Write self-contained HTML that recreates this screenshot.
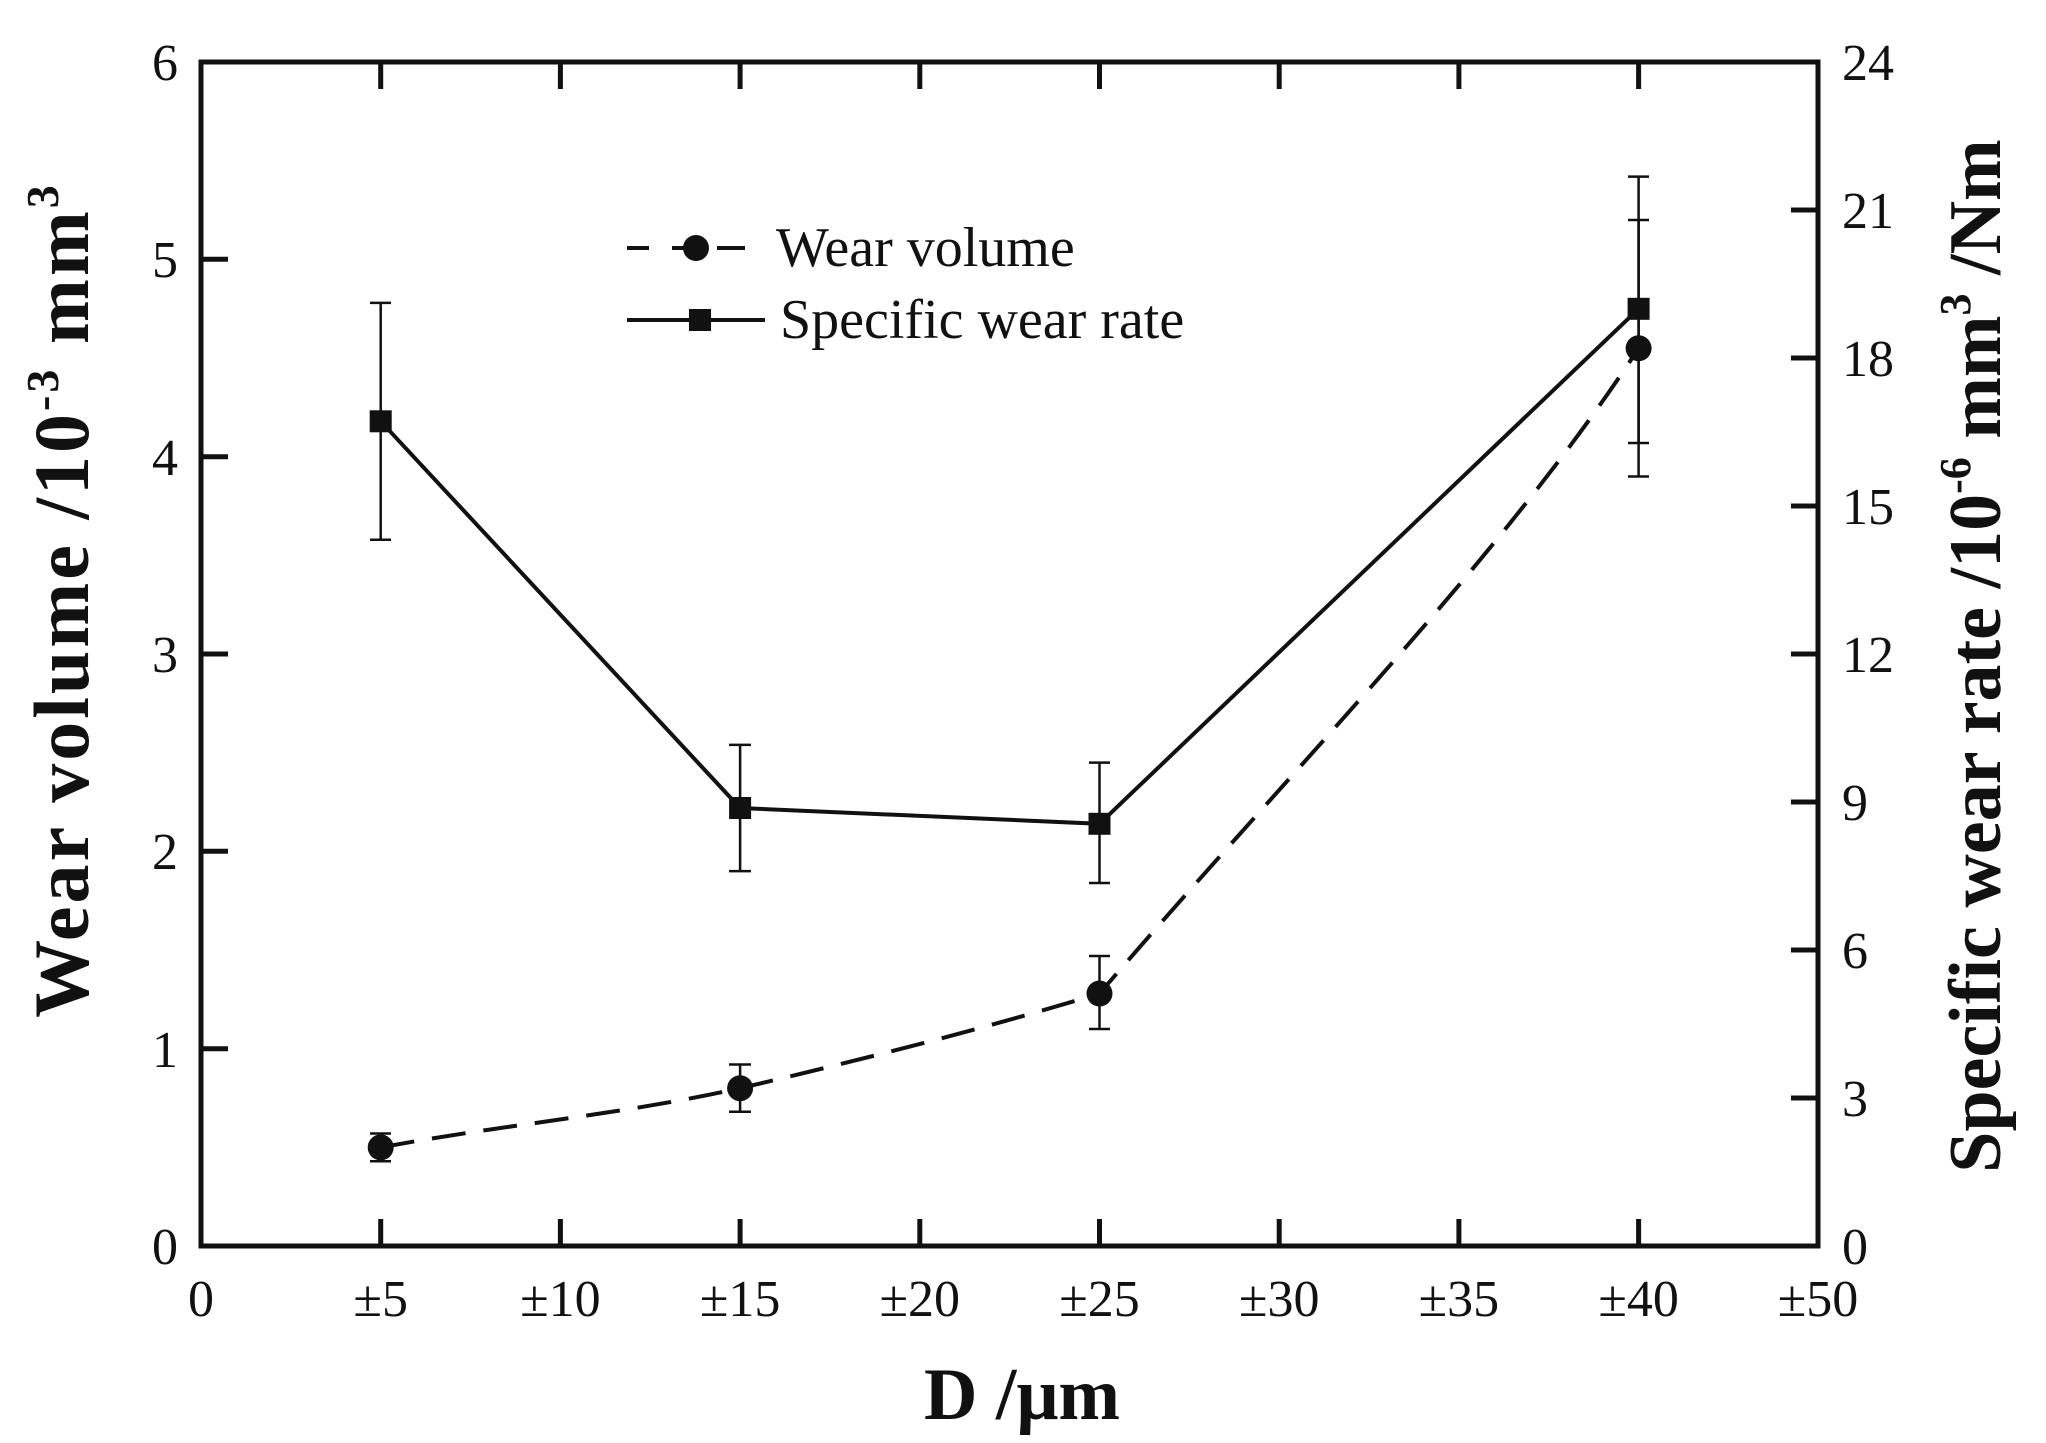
<!DOCTYPE html>
<html><head><meta charset="utf-8"><style>html,body{margin:0;padding:0;background:#fff}svg{display:block}</style></head>
<body>
<svg width="2046" height="1443" viewBox="0 0 2046 1443" xmlns="http://www.w3.org/2000/svg" font-family="Liberation Serif, serif" fill="#111">
<rect width="2046" height="1443" fill="#fff"/>
<g stroke="#111" stroke-width="5" fill="none">
<rect x="201" y="62" width="1617" height="1184"/>
<path d="M380.7 1246v-27M560.4 1246v-27M740.1 1246v-27M919.8 1246v-27M1099.5 1246v-27M1279.2 1246v-27M1458.9 1246v-27M1638.6 1246v-27
M380.7 62v27M560.4 62v27M740.1 62v27M919.8 62v27M1099.5 62v27M1279.2 62v27M1458.9 62v27M1638.6 62v27"/>
<path d="M201 1048.7h27M201 851.3h27M201 654h27M201 456.7h27M201 259.3h27"/>
<path d="M1818 1098h-27M1818 950h-27M1818 802h-27M1818 654h-27M1818 506h-27M1818 358h-27M1818 210h-27"/>
</g>
<g stroke="#111" stroke-width="4" fill="none">
<path d="M380.7 1147.4 C500 1125 620 1115 740.1 1088.2 C860 1060 980 1030 1099.5 993.5 C1300 760 1500 560 1638.6 348.3" stroke-dasharray="34,18"/>
<path d="M380.7 1161.2V1133.5M370 1161.2h21M370 1133.5h21
M740.1 1111.8V1064.5M729 1111.8h22M729 1064.5h22
M1099.5 1029V956M1089 1029h21M1089 956h21
M1638.6 476.5V220M1628 476.5h21M1628 220h21" stroke-width="2.5"/>
</g>
<g fill="#111">
<circle cx="380.7" cy="1147.4" r="13"/><circle cx="740.1" cy="1088.2" r="13"/><circle cx="1099.5" cy="993.5" r="13"/><circle cx="1638.6" cy="348.3" r="13"/>
</g>
<g stroke="#111" stroke-width="4" fill="none">
<polyline points="380.7,421.3 740.1,808 1099.5,823.8 1638.6,308.8"/>
<path d="M380.7 539.7V302.9M370 539.7h21M370 302.9h21
M740.1 871.1V744.9M729 871.1h22M729 744.9h22
M1099.5 883V762.6M1089 883h21M1089 762.6h21
M1638.6 443V176.6M1628 443h21M1628 176.6h21" stroke-width="2.5"/>
</g>
<g fill="#111">
<rect x="369.7" y="410.3" width="22" height="22"/><rect x="729.1" y="797" width="22" height="22"/><rect x="1088.5" y="812.8" width="22" height="22"/><rect x="1627.6" y="297.8" width="22" height="22"/>
</g>
<g stroke="#111" stroke-width="4">
<path d="M627 248h22M672 248h22M717 248h28" />
<path d="M627 320h138"/>
</g>
<circle cx="696" cy="248" r="13"/>
<rect x="689" y="309" width="22" height="22"/>
<g font-size="56">
<text x="776" y="266">Wear volume</text>
<text x="780" y="338">Specific wear rate</text>
</g>
<g font-size="52" text-anchor="end">
<text x="178" y="1264">0</text><text x="178" y="1067">1</text><text x="178" y="869">2</text><text x="178" y="672">3</text><text x="178" y="475">4</text><text x="178" y="277">5</text><text x="178" y="80">6</text>
</g>
<g font-size="52">
<text x="1842" y="1264">0</text><text x="1842" y="1116">3</text><text x="1842" y="968">6</text><text x="1842" y="820">9</text><text x="1842" y="672">12</text><text x="1842" y="524">15</text><text x="1842" y="376">18</text><text x="1842" y="228">21</text><text x="1842" y="80">24</text>
</g>
<g font-size="52" text-anchor="middle">
<text x="201" y="1316">0</text><text x="380.7" y="1316">±5</text><text x="560.4" y="1316">±10</text><text x="740.1" y="1316">±15</text><text x="919.8" y="1316">±20</text><text x="1099.5" y="1316">±25</text><text x="1279.2" y="1316">±30</text><text x="1458.9" y="1316">±35</text><text x="1638.6" y="1316">±40</text><text x="1818" y="1316">±50</text>
</g>
<text x="1022" y="1419" font-size="74" font-weight="bold" text-anchor="middle">D /μm</text>
<text transform="translate(88,600) rotate(-90)" font-size="78" font-weight="bold" text-anchor="middle" letter-spacing="3">Wear volume /10<tspan font-size="46" dy="-30">-3</tspan><tspan dy="30"> mm</tspan><tspan font-size="46" dy="-30">3</tspan></text>
<text transform="translate(2000,656) rotate(-90)" font-size="74" font-weight="bold" text-anchor="middle">Specific wear rate /10<tspan font-size="44" dy="-30">-6</tspan><tspan dy="30"> mm</tspan><tspan font-size="44" dy="-30">3</tspan><tspan dy="30"> /Nm</tspan></text>
</svg>
</body></html>
